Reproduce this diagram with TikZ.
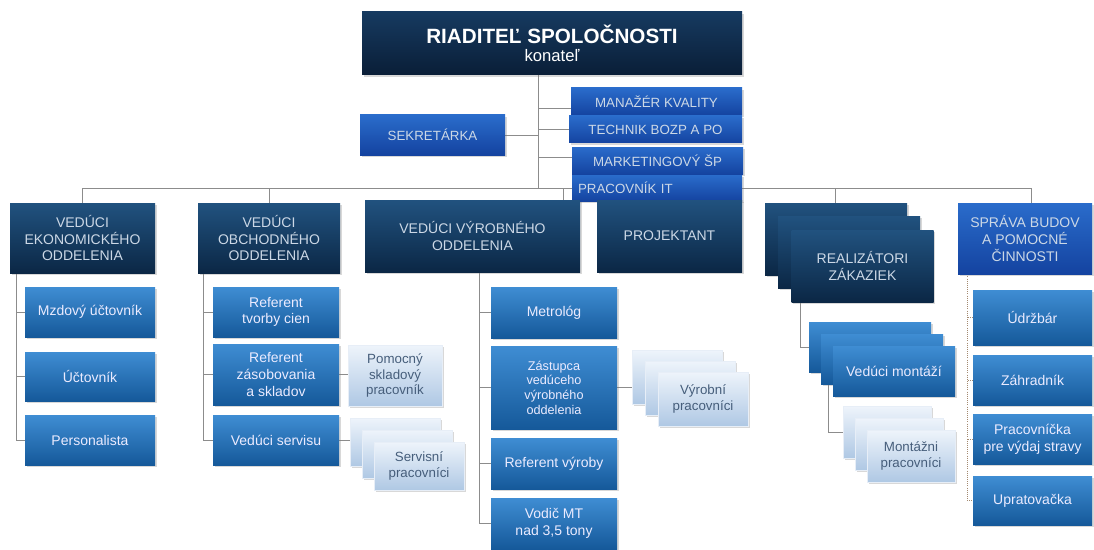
\documentclass[tikz,border=0pt]{standalone}
\usepackage{fontspec}
\setmainfont{Liberation Sans}
\usetikzlibrary{shadows,backgrounds}
\definecolor{topT}{HTML}{163A60}
\definecolor{topB}{HTML}{0A1E37}
\definecolor{navyT}{HTML}{21527F}
\definecolor{navyB}{HTML}{0B2745}
\definecolor{navyTx}{HTML}{CCD8E6}
\definecolor{brightT}{HTML}{2A6CCB}
\definecolor{brightB}{HTML}{1443A0}
\definecolor{subT}{HTML}{3F8DD3}
\definecolor{subB}{HTML}{15599A}
\definecolor{lightT}{HTML}{EEF4FB}
\definecolor{lightB}{HTML}{AFC8E4}
\definecolor{lightTx}{HTML}{465E7B}
\definecolor{lineC}{HTML}{8C8C8C}
\begin{document}
\begin{tikzpicture}[x=0.75pt,y=-0.75pt,
  sz/.style 2 args={minimum width=#1*0.75pt, minimum height=#2*0.75pt},
  bx/.style={inner sep=1pt, align=center, font=\fontsize{10.5}{12.5}\selectfont,
    drop shadow={shadow xshift=1.2pt, shadow yshift=-1.4pt, opacity=0.3}},
  topbox/.style={bx, top color=topT, bottom color=topB, text=white},
  navy/.style={bx, top color=navyT, bottom color=navyB, text=navyTx},
  bright/.style={bx, top color=brightT, bottom color=brightB, text=navyTx, font=\fontsize{10}{12}\selectfont},
  subbox/.style={bx, top color=subT, bottom color=subB, text=white!92!blue},
  lightbox/.style={bx, top color=lightT, bottom color=lightB, draw=white!70!lightB, line width=0.4pt, text=lightTx, font=\fontsize{10}{11.5}\selectfont},
  conn/.style={draw=lineC, line width=0.6pt},
  dotconn/.style={draw=lineC!80!orange, line width=0.6pt, densely dotted}]
\useasboundingbox (0,0) rectangle (1094,549);

% top level
\node[topbox, sz={380}{63}] (top) at (552,43.5) {{\fontsize{15.5}{18}\selectfont\bfseries RIADITEĽ SPOLOČNOSTI}\\[1pt]{\fontsize{12.5}{14}\selectfont konateľ}};
\node[bright, sz={145}{40}] (sek) at (432.5,135) {SEKRETÁRKA};
\node[bright, sz={171}{27}] (mk) at (656.5,101.5) {MANAŽÉR KVALITY};
\node[bright, sz={173}{27}] (tb) at (655.5,129.5) {TECHNIK BOZP A PO};
\node[bright, sz={171}{27}] (ms) at (657.5,160.5) {MARKETINGOVÝ ŠP};
\node[bright, sz={170}{26}, text width=158*0.75pt, align=left, inner xsep=4pt] (pit) at (657,188) {PRACOVNÍK IT};

% departments
\node[navy, sz={145}{70}] (ek) at (82.5,238) {VEDÚCI\\EKONOMICKÉHO\\ODDELENIA};
\node[navy, sz={142}{70}] (ob) at (269,238) {VEDÚCI\\OBCHODNÉHO\\ODDELENIA};
\node[navy, sz={215}{72}] (vy) at (472.5,236) {VEDÚCI VÝROBNÉHO\\ODDELENIA};
\node[navy, sz={145}{72}] (pr) at (669.5,236) {PROJEKTANT};
\node[navy, sz={142}{72}] (reA) at (836,239) {};
\node[navy, sz={142}{72}] (reB) at (849,252) {};
\node[navy, sz={142}{72}] (reC) at (862.5,266) {REALIZÁTORI\\ZÁKAZIEK};
\node[bright, sz={134}{71}, font=\fontsize{10.5}{12.5}\selectfont] (sb) at (1025,238.5) {SPRÁVA BUDOV\\A POMOCNÉ\\ČINNOSTI};

% economic
\node[subbox, sz={130}{50}] (mu) at (90,312) {Mzdový účtovník};
\node[subbox, sz={130}{49}] (uc) at (90,376.5) {Účtovník};
\node[subbox, sz={130}{50}] (pe) at (90,440) {Personalista};

% commercial
\node[subbox, sz={126}{50}] (rtc) at (276,312) {Referent\\tvorby cien};
\node[subbox, sz={126}{61}] (rzs) at (276,374.5) {Referent\\zásobovania\\a skladov};
\node[subbox, sz={126}{50}] (vs) at (276,440) {Vedúci servisu};
\node[lightbox, sz={94}{61}] (pom) at (395,375.5) {Pomocný\\skladový\\pracovník};
\node[lightbox, sz={90}{48}] (svA) at (395,442) {};
\node[lightbox, sz={90}{48}] (svB) at (407,454) {};
\node[lightbox, sz={90}{48}] (svC) at (419,466) {Servisní\\pracovníci};

% production
\node[subbox, sz={126}{51}] (met) at (554,312.5) {Metrológ};
\node[subbox, sz={126}{83}, font=\fontsize{9.5}{11}\selectfont] (zas) at (554,387.5) {Zástupca\\vedúceho\\výrobného\\oddelenia};
\node[subbox, sz={126}{51}] (rv) at (554,463.5) {Referent výroby};
\node[subbox, sz={126}{51}] (vod) at (554,523.5) {Vodič MT\\nad 3,5 tony};
\node[lightbox, sz={90}{54}] (vpA) at (677,377) {};
\node[lightbox, sz={90}{54}] (vpB) at (690,388) {};
\node[lightbox, sz={90}{54}] (vpC) at (703,399) {Výrobní\\pracovníci};

% realization
\node[subbox, sz={122}{50}] (vmA) at (870,347) {};
\node[subbox, sz={122}{50}] (vmB) at (882,359) {};
\node[subbox, sz={122}{50}] (vmC) at (894,371) {Vedúci montáží};
\node[lightbox, sz={88}{52}] (mpA) at (887,432) {};
\node[lightbox, sz={88}{52}] (mpB) at (899,444) {};
\node[lightbox, sz={88}{52}] (mpC) at (911,456) {Montážni\\pracovníci};

% buildings
\node[subbox, sz={119}{55}] (ud) at (1032.5,317.5) {Údržbár};
\node[subbox, sz={119}{50}] (za) at (1032.5,380) {Záhradník};
\node[subbox, sz={119}{50}] (pv) at (1032.5,439) {Pracovníčka\\pre výdaj stravy};
\node[subbox, sz={119}{49}] (up) at (1032.5,500.5) {Upratovačka};

% helper coordinates
\coordinate (jm) at (538,188);
\coordinate (busL) at (82.5,188);
\coordinate (busR) at (1031,188);
\coordinate (jv) at (563,188);
\coordinate (jr) at (835,188);
\coordinate (ekv) at (16,0);
\coordinate (obv) at (203,0);
\coordinate (vyv) at (479,0);
\coordinate (rev) at (800,0);
\coordinate (mv) at (828,0);
\coordinate (sbv) at (967,0);

\begin{pgfonlayer}{background}
  \fill[white] (0,0) rectangle (1094,549);
  \draw[conn] (top.south -| jm) -- (jm);
  \draw[conn] (sek.east) -- (sek.east -| jm);
  \draw[conn] (jm |- mk.south) ++(0,-7) coordinate (t1) -- (t1 -| mk.west);
  \draw[conn] (jm |- tb.center) -- (tb.west);
  \draw[conn] (jm |- ms.south) ++(0,-17) coordinate (t3) -- (t3 -| ms.west);
  \draw[conn] (busL) -- (busR);
  \draw[conn] (busL) -- (ek.north);
  \draw[conn] (ob.north |- busL) -- (ob.north);
  \draw[conn] (jv) -- (jv |- vy.north);
  \draw[conn] (jr) -- (jr |- reA.north);
  \draw[conn] (busR) -- (busR |- sb.north);
  % economic
  \draw[conn] (ek.south -| ekv) |- (pe.west);
  \draw[conn] (mu.west) -- (mu.west -| ekv);
  \draw[conn] (uc.west) -- (uc.west -| ekv);
  % commercial
  \draw[conn] (ob.south -| obv) |- (vs.west);
  \draw[conn] (rtc.west) -- (rtc.west -| obv);
  \draw[conn] (rzs.west) -- (rzs.west -| obv);
  \draw[conn] (rzs.east) -- (rzs.east -| pom.west);
  \draw[conn] (vs.east) -- (vs.east -| svA.west);
  % production
  \draw[conn] (vy.south -| vyv) |- (vod.west);
  \draw[conn] (met.west) -- (met.west -| vyv);
  \draw[conn] (zas.west) -- (zas.west -| vyv);
  \draw[conn] (rv.west) -- (rv.west -| vyv);
  \draw[conn] (zas.east) -- (zas.east -| vpA.west);
  % realization
  \draw[conn] (reC.south -| rev) |- (vmA.west);
  \draw[conn] (vmB.south -| mv) |- (mpA.west);
  % buildings
  \draw[dotconn] (sb.south -| sbv) |- (up.west);
  \draw[dotconn] (ud.west) -- (ud.west -| sbv);
  \draw[dotconn] (za.west) -- (za.west -| sbv);
  \draw[dotconn] (pv.west) -- (pv.west -| sbv);
\end{pgfonlayer}
\end{tikzpicture}
\end{document}
